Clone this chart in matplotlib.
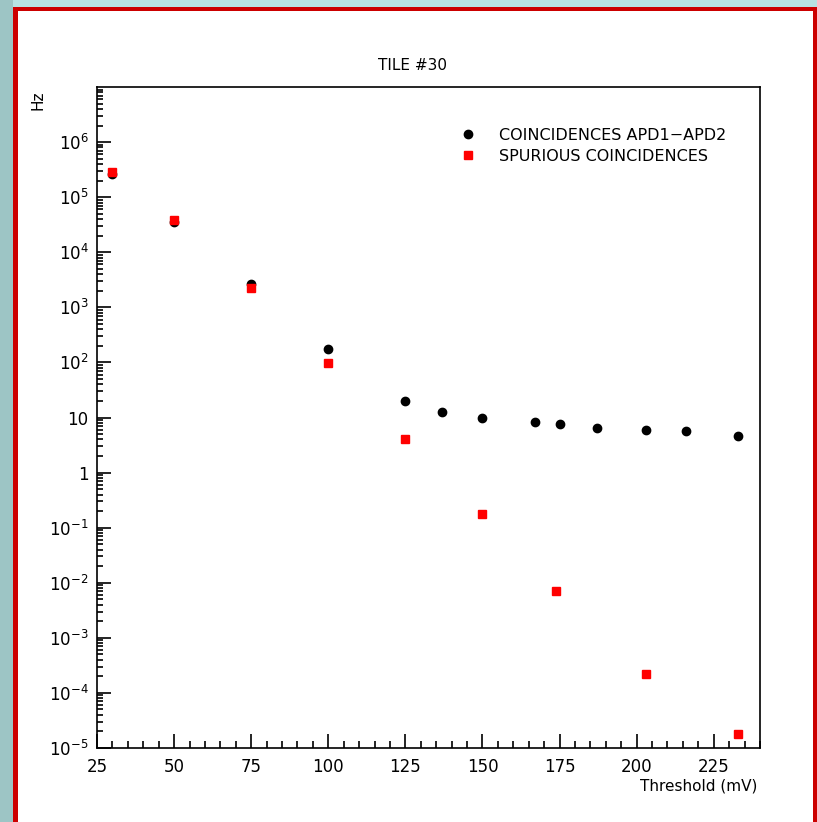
import numpy as np
import matplotlib.pyplot as plt
from matplotlib.patches import Rectangle
from matplotlib.ticker import FixedLocator, MultipleLocator, LogLocator, NullFormatter

# values (threshold in mV, rate in Hz)
thr_coinc = [30, 50, 75, 100, 125, 137, 150, 167, 175, 187, 203, 216, 233]
hz_coinc  = [2.6e5, 3.5e4, 2.6e3, 175, 19.7, 12.4, 9.8, 8.2, 7.7, 6.4, 6.0, 5.8, 4.7]

thr_spur = [30, 50, 75, 100, 125, 150, 174, 203, 233]
hz_spur  = [2.9e5, 3.9e4, 2.2e3, 98, 4.1, 0.174, 7.1e-3, 2.2e-4, 1.8e-5]

x_ticks = [25, 50, 75, 100, 125, 150, 175, 200, 225]
y_ticks = [1e-5, 1e-4, 1e-3, 1e-2, 1e-1, 1, 10, 1e2, 1e3, 1e4, 1e5, 1e6]
y_ticklabels = [r'$10^{-5}$', r'$10^{-4}$', r'$10^{-3}$', r'$10^{-2}$', r'$10^{-1}$',
                '1', '10', r'$10^{2}$', r'$10^{3}$', r'$10^{4}$', r'$10^{5}$', r'$10^{6}$']

W, H = 817, 822
fig = plt.figure(figsize=(W / 100, H / 100), dpi=100, facecolor='#b8e3e3')

# slide background: teal strip on the left, red frame, white page
fig.patches.append(Rectangle((0, 0), 13 / W, 1, transform=fig.transFigure,
                             facecolor='#9dc5c5', edgecolor='none', zorder=-3))
fig.patches.append(Rectangle((13 / W, 0), 1 - 13 / W, 1 - 7 / H, transform=fig.transFigure,
                             facecolor='#cc0000', edgecolor='none', zorder=-2))
fig.patches.append(Rectangle((18 / W, 0), (813 - 18) / W, 1 - 11 / H, transform=fig.transFigure,
                             facecolor='white', edgecolor='none', zorder=-1))

ax = fig.add_axes([97 / W, 1 - 748 / H, (760 - 97) / W, (748 - 87) / H])

ax.plot(thr_coinc, hz_coinc, 'o', color='black', markersize=6, linestyle='none',
        label='COINCIDENCES APD1\u2212APD2')
ax.plot(thr_spur, hz_spur, 's', color='#ff0000', markersize=5.8, linestyle='none',
        label='SPURIOUS COINCIDENCES')

ax.set_yscale('log')
ax.set_xlim(25, 240)
ax.set_ylim(1e-5, 1e7)

ax.xaxis.set_major_locator(FixedLocator(x_ticks))
ax.xaxis.set_minor_locator(MultipleLocator(5))
ax.set_xticklabels([str(t) for t in x_ticks])
ax.yaxis.set_major_locator(FixedLocator(y_ticks))
ax.set_yticklabels(y_ticklabels)
ax.yaxis.set_minor_locator(LogLocator(base=10, subs=np.arange(2, 10), numticks=100))
ax.yaxis.set_minor_formatter(NullFormatter())

ax.tick_params(which='both', direction='in', top=False, right=False, labelsize=12, width=1.2)
ax.tick_params(axis='x', which='major', length=10, pad=7)
ax.tick_params(axis='x', which='minor', length=5)
ax.tick_params(axis='y', which='major', length=10, pad=6)
ax.tick_params(axis='y', which='minor', length=4)
for s in ax.spines.values():
    s.set_linewidth(1.2)

leg = ax.legend(loc='upper left', bbox_to_anchor=((462 - 97) / 663, (748 - 128) / 661),
                frameon=False, fontsize=11.5, handlelength=0.8, handletextpad=1.5,
                labelspacing=0.35, borderpad=0, borderaxespad=0)

fig.text(412 / W, 1 - 66 / H, 'TILE #30', ha='center', va='center', fontsize=11)
fig.text(757 / W, 1 - 786 / H, 'Threshold (mV)', ha='right', va='center', fontsize=11)
fig.text(38 / W, 1 - 100 / H, 'Hz', ha='center', va='center', rotation=90, fontsize=11)

fig.savefig('out.png', dpi=100, facecolor=fig.get_facecolor())
